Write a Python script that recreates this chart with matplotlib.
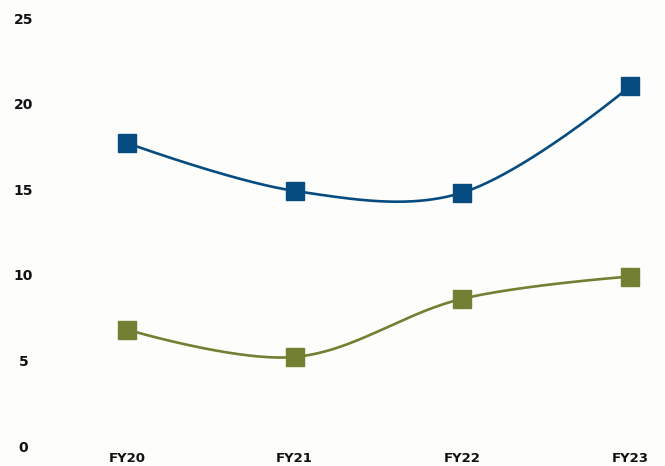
import numpy as np
import matplotlib.pyplot as plt

# --- DATA ---
years = ["FY20", "FY21", "FY22", "FY23"]
series_blue = [17.7, 14.9, 14.8, 21.0]
series_green = [6.8, 5.2, 8.6, 9.9]
y_ticks = [0, 5, 10, 15, 20, 25]

BLUE = "#064c80"
GREEN = "#737f32"
BG = "#fdfdfb"
TENSION = 0.35


def smooth_curve(ax, xs, ys, tension=TENSION, n=80):
    """Bezier spline through the points, control points computed in
    screen space (distance-weighted, ends use the point itself)."""
    pts = ax.transData.transform(np.column_stack([xs, ys]))
    m = len(pts)
    cp_prev = pts.copy()
    cp_next = pts.copy()
    for i in range(1, m - 1):
        prev, cur, nxt = pts[i - 1], pts[i], pts[i + 1]
        d01 = np.hypot(*(cur - prev))
        d12 = np.hypot(*(nxt - cur))
        s01 = d01 / (d01 + d12)
        s12 = d12 / (d01 + d12)
        cp_prev[i] = cur - tension * s01 * (nxt - prev)
        cp_next[i] = cur + tension * s12 * (nxt - prev)
    t = np.linspace(0, 1, n)[:, None]
    segs = []
    for i in range(m - 1):
        p0, p1, p2, p3 = pts[i], cp_next[i], cp_prev[i + 1], pts[i + 1]
        seg = (1 - t) ** 3 * p0 + 3 * (1 - t) ** 2 * t * p1 \
            + 3 * (1 - t) * t ** 2 * p2 + t ** 3 * p3
        segs.append(seg if i == 0 else seg[1:])
    curve = ax.transData.inverted().transform(np.vstack(segs))
    return curve[:, 0], curve[:, 1]


fig = plt.figure(figsize=(6.65, 4.66), dpi=100, facecolor=BG)
W, H = 665, 466
ax_left, ax_bottom, ax_top = 40, 446, 0
ax = fig.add_axes([ax_left / W, (H - ax_bottom) / H,
                   (W - ax_left) / W, (ax_bottom - ax_top) / H])
ax.set_facecolor(BG)

x = np.arange(len(years))
px_per_cat = (630 - 127) / 3
ax.set_xlim(-(127 - ax_left) / px_per_cat, 3 + (W - 630) / px_per_cat)
px_per_unit = (446 - 18) / 25
ax.set_ylim(0, 25 + 18 / px_per_unit)

for vals, col in [(series_blue, BLUE), (series_green, GREEN)]:
    sx, sy = smooth_curve(ax, x, vals)
    ax.plot(sx, sy, color=col, lw=1.9, solid_capstyle="round", zorder=2)
    ax.plot(x, vals, ls="none", marker="s", ms=12.5, color=col, zorder=3)

for s in ax.spines.values():
    s.set_visible(False)

ax.set_xticks(x)
ax.set_xticklabels(years)
ax.set_yticks(y_ticks)
ax.set_yticklabels([str(v) for v in y_ticks])
ax.tick_params(axis="both", length=0, labelcolor="#111111")
ax.tick_params(axis="x", pad=4, labelsize=9.5)
ax.tick_params(axis="y", pad=12, labelsize=10)
for lab in ax.get_yticklabels():
    lab.set_horizontalalignment("center")
for lab in ax.get_xticklabels() + ax.get_yticklabels():
    lab.set_fontfamily("DejaVu Sans")
    lab.set_fontweight("bold")

fig.savefig("out.png", dpi=100, facecolor=BG)
